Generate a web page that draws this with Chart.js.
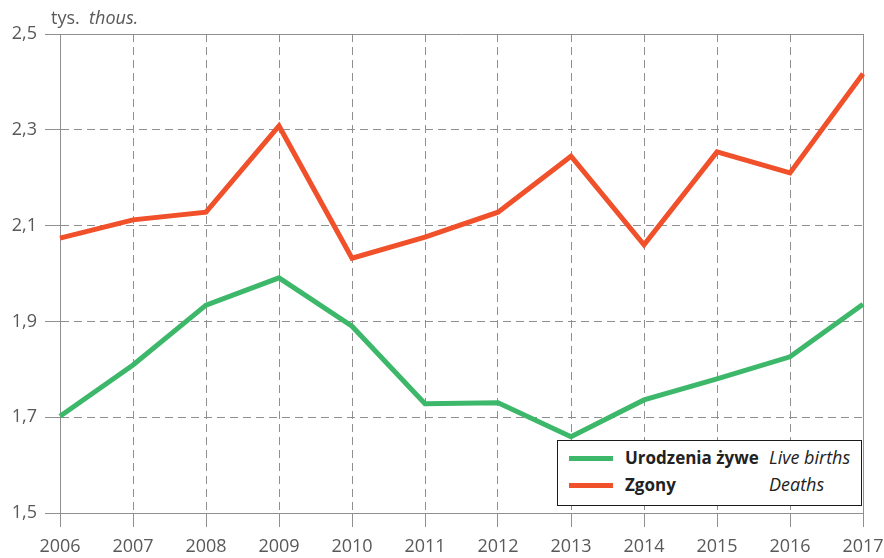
<!DOCTYPE html>
<html>
<head>
<meta charset="utf-8">
<script src="https://cdn.jsdelivr.net/npm/chart.js@4/dist/chart.umd.min.js"></script>
<style>
  html, body { margin: 0; padding: 0; background: #fff; }
  #wrap { position: relative; width: 884px; height: 558px; font-family: "Open Sans", "Noto Sans", sans-serif; }
  #unit { position: absolute; left: 51px; top: 5px; font-size: 18px; color: #595959; }
  #legend { position: absolute; left: 557px; top: 440px; width: 303px; height: 64px; border: 1.5px solid #1a1a1a; background: #fff; font-size: 17px; color: #222; }
  .row { position: absolute; left: 0; height: 24px; width: 100%; }
  .swatch { position: absolute; left: 11px; top: 10px; width: 44px; height: 5px; }
  .pl { position: absolute; left: 67px; font-weight: bold; }
  .en { position: absolute; left: 211px; font-style: italic; font-size: 18px; top: -1px; }
</style>
</head>
<body>
<div id="wrap">
  <canvas id="chart" width="884" height="558"></canvas>
  <div id="unit">tys.&nbsp; <i>thous.</i></div>
  <div id="legend">
    <div class="row" style="top:5px"><div class="swatch" style="background:#3db86b"></div><span class="pl">Urodzenia żywe</span><span class="en">Live births</span></div>
    <div class="row" style="top:32px"><div class="swatch" style="background:#f0502a"></div><span class="pl">Zgony</span><span class="en">Deaths</span></div>
  </div>
</div>
<script>
const years = ["2006", "2007", "2008", "2009", "2010", "2011", "2012", "2013", "2014", "2015", "2016", "2017"];
const liveBirths = [1.702, 1.809, 1.934, 1.991, 1.890, 1.728, 1.730, 1.659, 1.736, 1.780, 1.826, 1.936];
const deaths = [2.074, 2.112, 2.128, 2.308, 2.032, 2.076, 2.128, 2.245, 2.060, 2.254, 2.210, 2.417];

const gridColor = "#8f8f8f";
const tickColor = "#595959";

// solid frame on top and right, like the original
const framePlugin = {
    id: "frame",
    beforeDatasetsDraw(chart) {
        const { ctx, chartArea: a } = chart;
        ctx.save();
        ctx.strokeStyle = gridColor;
        ctx.lineWidth = 1;
        ctx.setLineDash([]);
        ctx.beginPath();
        ctx.moveTo(a.left, a.top + 0.5);
        ctx.lineTo(a.right, a.top + 0.5);
        ctx.moveTo(a.right + 0.5, a.top);
        ctx.lineTo(a.right + 0.5, a.bottom);
        ctx.stroke();
        ctx.restore();
    },
};

new Chart(document.getElementById("chart").getContext("2d"), {
    type: "line",
    data: {
        labels: years,
        datasets: [
            {
                label: "Urodzenia żywe",
                data: liveBirths,
                borderColor: "#3db86b",
                borderWidth: 5,
                pointRadius: 0,
                tension: 0,
            },
            {
                label: "Zgony",
                data: deaths,
                borderColor: "#f0502a",
                borderWidth: 5,
                pointRadius: 0,
                tension: 0,
            },
        ],
    },
    options: {
        responsive: false,
        animation: false,
        layout: { padding: { top: 34, right: 21, left: 0, bottom: 0 } },
        plugins: { legend: { display: false }, tooltip: { enabled: false } },
        scales: {
            x: {
                offset: false,
                grid: {
                    color: gridColor,
                    lineWidth: 1,
                    tickLength: 14,
                    tickColor: gridColor,
                },
                border: { display: true, color: gridColor, width: 1, dash: [8, 5] },
                ticks: { color: tickColor, font: { family: "Open Sans", size: 18 }, padding: 9, maxRotation: 0 },
                afterFit(scale) {
                    scale.height = 45;
                    scale.paddingLeft = 0;
                    scale.paddingRight = 0;
                },
            },
            y: {
                min: 1.5,
                max: 2.5,
                grid: {
                    color: gridColor,
                    lineWidth: 1,
                    tickLength: 15,
                    tickColor: gridColor,
                },
                border: { display: true, color: gridColor, width: 1, dash: [8, 5] },
                ticks: {
                    stepSize: 0.2,
                    color: tickColor,
                    font: { family: "Open Sans", size: 18 },
                    padding: 8,
                    callback: (v) => v.toFixed(1).replace(".", ","),
                },
                afterFit(scale) { scale.width = 60; },
            },
        },
    },
    plugins: [framePlugin],
});
</script>
</body>
</html>
